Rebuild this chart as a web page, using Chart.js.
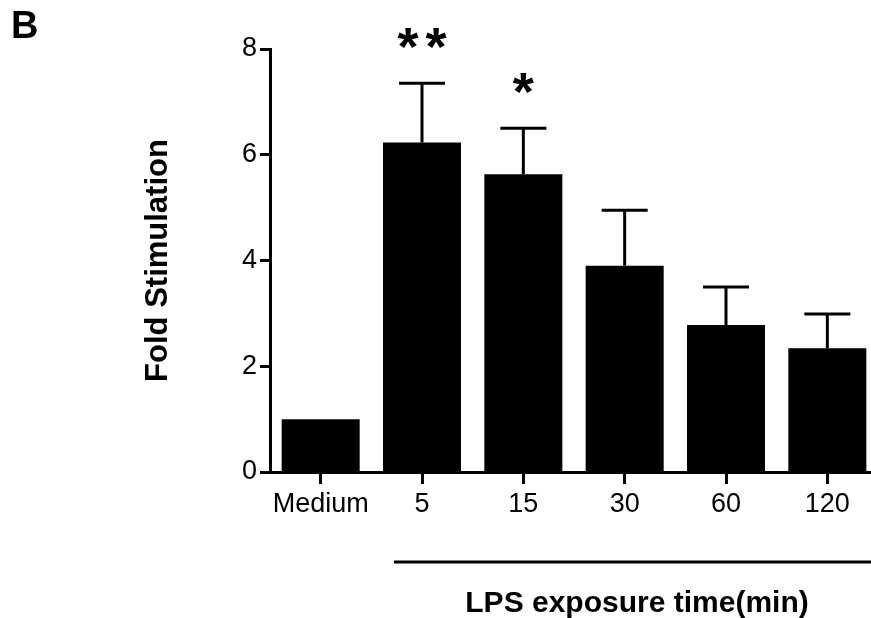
<!DOCTYPE html>
<html>
<head>
<meta charset="utf-8">
<script src="https://cdn.jsdelivr.net/npm/chart.js@4.4.0/dist/chart.umd.min.js"></script>
<style>
    html, body { margin: 0; padding: 0; background: #fff; overflow: hidden; }
    #wrap { position: absolute; left: 0; top: 0; width: 880px; height: 618px; }
</style>
</head>
<body>
<div id="wrap"><canvas id="chart" width="880" height="618"></canvas></div>
<script>
    'use strict';

    // Chart data
    const categories = ['Medium', '5', '15', '30', '60', '120'];
    const foldValues = [1.0, 6.23, 5.63, 3.90, 2.78, 2.34];
    const errorTops = [null, 7.35, 6.50, 4.95, 3.50, 2.99];
    const significance = ['', '**', '*', '', '', ''];
    const yTicks = [0, 2, 4, 6, 8];

    const tickFont = "'Liberation Sans Narrow', 'Arial Narrow', 'Liberation Sans', Arial, sans-serif";
    const boldFont = "'Liberation Sans', Arial, sans-serif";

    // Error bars (upper only) and significance marks
    const errorBarPlugin = {
        id: 'errorBars',
        afterDatasetsDraw(chart) {
            const ctx = chart.ctx;
            const meta = chart.getDatasetMeta(0);
            const yScale = chart.scales.y;
            ctx.save();
            ctx.strokeStyle = '#000';
            ctx.lineWidth = 3;
            meta.data.forEach((bar, i) => {
                const top = errorTops[i];
                if (top == null) return;
                const yTop = yScale.getPixelForValue(top);
                ctx.beginPath();
                ctx.moveTo(bar.x, bar.y);
                ctx.lineTo(bar.x, yTop);
                ctx.moveTo(bar.x - 23, yTop);
                ctx.lineTo(bar.x + 23, yTop);
                ctx.stroke();

                // stars are spaced out a little, draw them one by one
                const stars = significance[i];
                if (stars) {
                    ctx.fillStyle = '#000';
                    ctx.font = 'bold 54px ' + boldFont;
                    ctx.textAlign = 'center';
                    ctx.textBaseline = 'alphabetic';
                    for (let k = 0; k < stars.length; k++) {
                        const dx = (k - (stars.length - 1) / 2) * 28;
                        ctx.fillText(stars[k], bar.x + dx, yTop - 18);
                    }
                }
            });
            ctx.restore();
        }
    };

    // Panel letter, bracket line and group label
    const annotationPlugin = {
        id: 'annotations',
        afterDraw(chart) {
            const ctx = chart.ctx;
            ctx.save();
            ctx.fillStyle = '#000';
            ctx.font = 'bold 38px ' + boldFont;
            ctx.textAlign = 'left';
            ctx.textBaseline = 'alphabetic';
            ctx.fillText('B', 11, 38);

            ctx.strokeStyle = '#000';
            ctx.lineWidth = 3;
            ctx.beginPath();
            ctx.moveTo(394, 562);
            ctx.lineTo(880, 562);
            ctx.stroke();

            ctx.font = 'bold 30px ' + boldFont;
            ctx.textAlign = 'center';
            ctx.textBaseline = 'middle';
            ctx.fillText('LPS exposure time(min)', 637, 604);
            ctx.restore();
        }
    };

    new Chart(document.getElementById('chart'), {
        type: 'bar',
        data: {
            labels: categories,
            datasets: [{
                data: foldValues,
                backgroundColor: '#000',
                borderWidth: 0,
                categoryPercentage: 1.0,
                barPercentage: 0.77
            }]
        },
        options: {
            responsive: false,
            devicePixelRatio: 1,
            animation: false,
            layout: {
                padding: { left: 140, top: 49, right: 2, bottom: 0 }
            },
            plugins: {
                legend: { display: false },
                tooltip: { enabled: false }
            },
            scales: {
                x: {
                    offset: true,
                    afterFit: (scale) => { scale.height = 146; },
                    grid: {
                        display: true,
                        offset: false,
                        drawOnChartArea: false,
                        drawTicks: true,
                        tickLength: 12,
                        tickWidth: 3,
                        tickColor: '#000'
                    },
                    border: { display: true, color: '#000', width: 3 },
                    ticks: {
                        color: '#000',
                        padding: 4,
                        autoSkip: false,
                        maxRotation: 0,
                        font: { family: tickFont, size: 27 }
                    }
                },
                y: {
                    min: 0,
                    max: 8,
                    afterFit: (scale) => { scale.width = 130; },
                    afterBuildTicks: (scale) => {
                        scale.ticks = yTicks.map(v => ({ value: v }));
                    },
                    grid: {
                        drawOnChartArea: false,
                        drawTicks: true,
                        tickLength: 10,
                        tickWidth: 3,
                        tickColor: '#000'
                    },
                    border: { color: '#000', width: 3 },
                    ticks: {
                        color: '#000',
                        padding: 3,
                        font: { family: tickFont, size: 27 }
                    },
                    title: {
                        display: true,
                        text: 'Fold Stimulation',
                        color: '#000',
                        padding: 0,
                        font: { family: boldFont, size: 31, weight: 'bold' }
                    }
                }
            }
        },
        plugins: [errorBarPlugin, annotationPlugin]
    });
</script>
</body>
</html>
